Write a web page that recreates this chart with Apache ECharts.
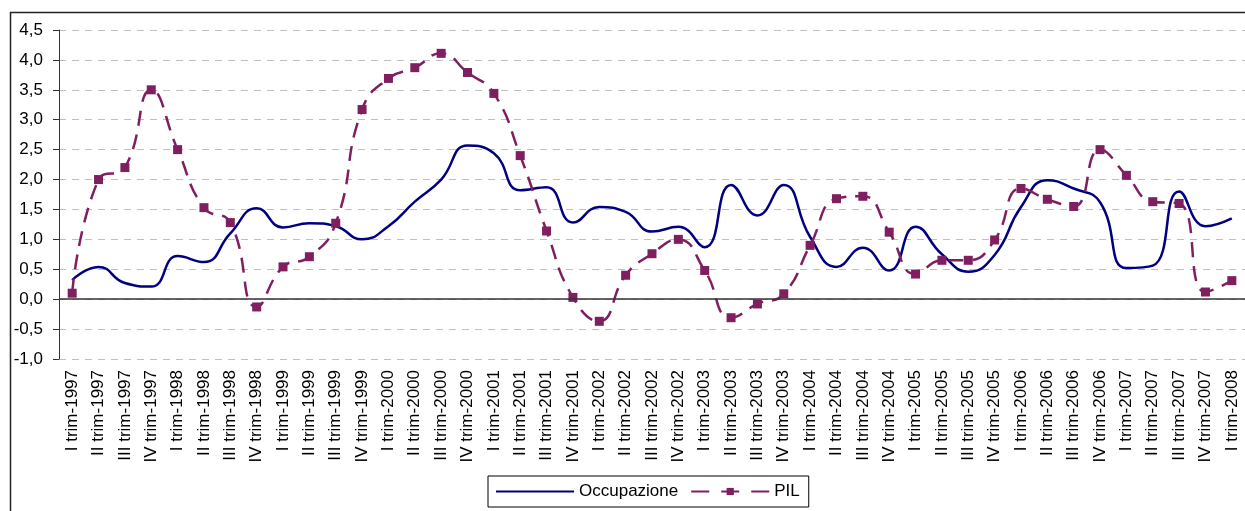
<!DOCTYPE html>
<html>
<head>
<meta charset="utf-8">
<script src="https://cdn.jsdelivr.net/npm/echarts@6/dist/echarts.min.js"></script>
<style>
  html, body { margin: 0; padding: 0; background: #fff; }
  #chart { width: 1245px; height: 511px; }
</style>
</head>
<body>
<div id="chart"></div>
<script>
// trimestri
var quarters = [];
var romans = ['I', 'II', 'III', 'IV'];
for (var y = 1997; y <= 2007; y++) {
  for (var q = 0; q < 4; q++) quarters.push(romans[q] + ' trim-' + y);
}
quarters.push('I trim-2008');

var occupazione = [0.32, 0.54, 0.27, 0.21, 0.72, 0.62, 1.1, 1.52, 1.2, 1.27,
  1.22, 1.0, 1.22, 1.63, 2.0, 2.57, 2.44, 1.82, 1.87, 1.28,
  1.54, 1.46, 1.13, 1.21, 0.87, 1.91, 1.4, 1.91, 1.04, 0.54,
  0.86, 0.48, 1.21, 0.75, 0.46, 0.74, 1.54, 1.99, 1.85, 1.62,
  0.52, 0.56, 1.8, 1.22, 1.35];

var pil = [0.1, 2.0, 2.2, 3.5, 2.5, 1.53, 1.28, -0.13, 0.54, 0.71,
  1.27, 3.17, 3.69, 3.87, 4.11, 3.79, 3.44, 2.4, 1.14, 0.03,
  -0.37, 0.4, 0.76, 1.0, 0.48, -0.31, -0.08, 0.09, 0.9, 1.68,
  1.72, 1.12, 0.42, 0.65, 0.65, 0.99, 1.85, 1.67, 1.55, 2.5,
  2.07, 1.63, 1.6, 0.12, 0.31];

var FONT = 'Liberation Sans';
var NAVY = '#000080';
var PURPLE = '#7f1f60';
var chart = echarts.init(document.getElementById('chart'));

chart.setOption({
  animation: false,
  textStyle: { fontFamily: FONT },
  graphic: [{
    type: 'rect',
    shape: { x: 10.5, y: 12.5, width: 1400, height: 700 },
    style: { fill: 'none', stroke: '#222', lineWidth: 1.5 },
    silent: true
  }],
  grid: { left: 59, top: 30, bottom: 152, right: -11 },
  legend: {
    left: 488,
    top: 476,
    padding: [7, 9, 7, 7],
    borderColor: '#000',
    borderWidth: 1,
    itemWidth: 78,
    itemHeight: 9,
    itemGap: 12,
    textStyle: { fontFamily: FONT, fontSize: 17, color: '#000' },
    data: [
      { name: 'Occupazione', itemStyle: { opacity: 0 } },
      { name: 'PIL', lineStyle: { type: [18, 12] } }
    ]
  },
  xAxis: {
    type: 'category',
    data: quarters,
    boundaryGap: true,
    axisLine: { show: false },
    axisTick: { show: false },
    axisLabel: {
      interval: 0,
      rotate: 90,
      margin: 11,
      fontSize: 17,
      color: '#000',
      fontFamily: FONT
    }
  },
  yAxis: {
    type: 'value',
    min: -1,
    max: 4.5,
    interval: 0.5,
    axisLine: { show: true, lineStyle: { color: '#333', width: 1 } },
    axisTick: { show: true, length: 6, lineStyle: { color: '#333' } },
    axisLabel: {
      margin: 16,
      fontSize: 17,
      color: '#000',
      fontFamily: FONT,
      formatter: function (v) { return v.toFixed(1).replace('.', ','); }
    },
    splitLine: { show: true, lineStyle: { color: '#c0c0c0', type: [7, 6], width: 1 } }
  },
  series: [
    {
      name: 'Occupazione',
      type: 'line',
      data: occupazione,
      smooth: 0.5,
      showSymbol: false,
      symbol: 'none',
      lineStyle: { color: NAVY, width: 2.5 },
      itemStyle: { color: NAVY },
      z: 3,
      markLine: {
        silent: true,
        symbol: 'none',
        label: { show: false },
        lineStyle: { color: '#333', type: 'solid', width: 1.5 },
        data: [{ yAxis: 0 }]
      }
    },
    {
      name: 'PIL',
      type: 'line',
      data: pil,
      smooth: 0.5,
      symbol: 'rect',
      symbolSize: 9,
      lineStyle: { color: PURPLE, width: 2.5, type: [15, 9] },
      itemStyle: { color: PURPLE },
      z: 4
    }
  ]
});
</script>
</body>
</html>
